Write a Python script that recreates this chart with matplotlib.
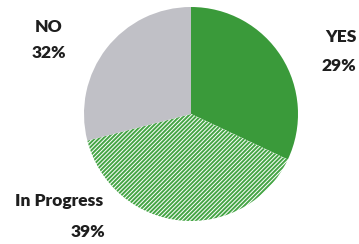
import matplotlib
matplotlib.use("Agg")
import matplotlib.pyplot as plt

# slice shares as drawn in the picture, and the label texts printed beside them
categories = ["YES", "In Progress", "NO"]
shares = [32, 39, 29]
label_pcts = ["29%", "39%", "32%"]

green = "#3a9a3a"
grey = "#c0c0c6"

plt.rcParams["hatch.linewidth"] = 1.4

fig = plt.figure(figsize=(3.59, 2.44), dpi=100)
ax = fig.add_axes([0, 0, 1, 1])

wedges, _ = ax.pie(shares, startangle=90, counterclock=False,
                   center=(191, 130), radius=107, frame=True,
                   colors=[green, "white", grey],
                   wedgeprops=dict(linewidth=0))
wedges[1].set_edgecolor("#45a545")
wedges[1].set_hatch("////////")

ax.set_xlim(0, 359)
ax.set_ylim(0, 244)
ax.set_aspect("equal")
ax.axis("off")

txt = dict(fontsize=12.5, fontweight="heavy", color="#1e1e1e",
           family="Lato", ha="center", va="center")
# label positions in pixels from the top-left
ax.text(341, 244 - 37, categories[0], **txt)
ax.text(339, 244 - 66, label_pcts[0], **txt)
ax.text(59, 244 - 201, categories[1], **txt)
ax.text(88, 244 - 232, label_pcts[1], **txt)
ax.text(49, 244 - 27, categories[2], **txt)
ax.text(49, 244 - 53, label_pcts[2], **txt)

fig.savefig("out.png", dpi=100)
